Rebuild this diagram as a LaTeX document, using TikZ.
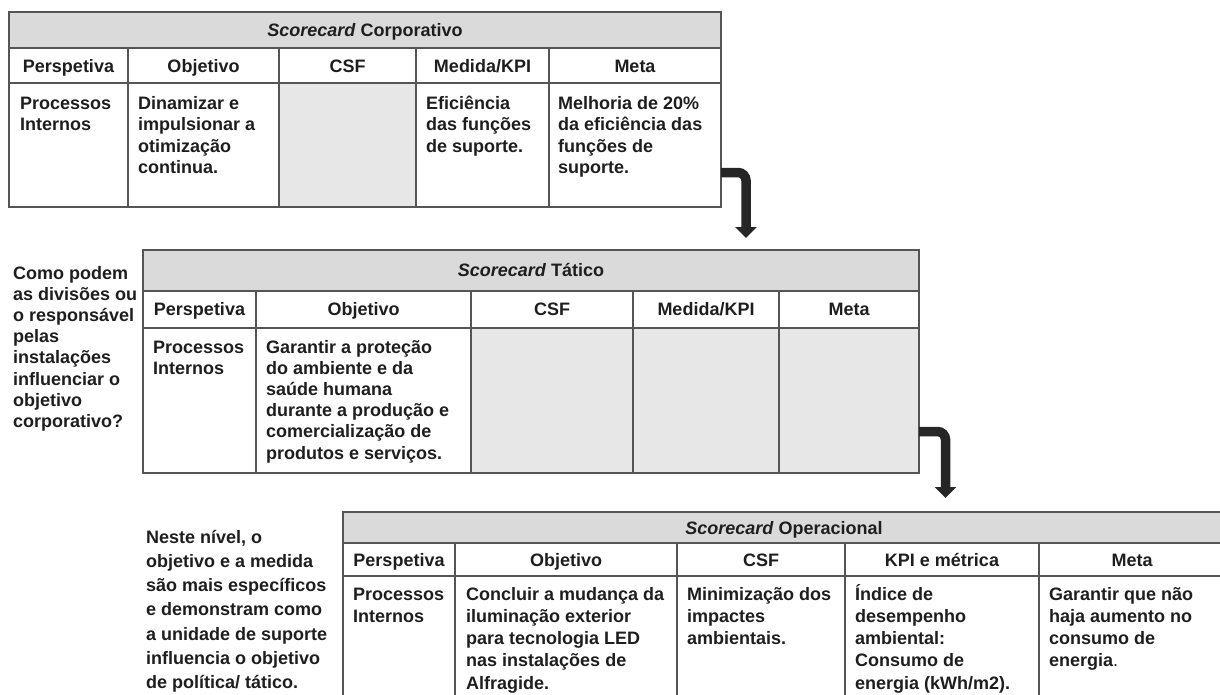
\documentclass[tikz,border=0pt]{standalone}
\usepackage{fontspec}
\setmainfont{Liberation Sans}
\usetikzlibrary{arrows.meta}

\definecolor{rule}{RGB}{85,85,85}
\definecolor{titlegray}{RGB}{218,218,218}
\definecolor{cellgray}{RGB}{231,231,231}
\definecolor{ink}{RGB}{30,30,30}
\definecolor{arrowink}{RGB}{38,38,38}

% Multi-line nodes are placed by the baseline of their last line.
\tikzset{
  gridline/.style={draw=rule, line width=1.4pt},
  titletext/.style={anchor=base, inner sep=0pt, text=ink,
    font=\fontsize{18}{21}\selectfont\bfseries},
  headtext/.style={anchor=base, inner sep=0pt, text=ink,
    font=\fontsize{18}{21}\selectfont\bfseries},
  bodytext/.style={anchor=base west, align=left, inner sep=0pt, text=ink,
    font=\fontsize{18}{#1}\selectfont\bfseries},
  bodytext/.default=21.5,
  flow/.style={draw=arrowink, line width=9.5pt, rounded corners=8pt,
    -{Triangle[width=21pt,length=11pt]}},
}

\begin{document}
\begin{tikzpicture}[x=1pt, y=-1pt]
\useasboundingbox (0,0) rectangle (1220,694);
\clip (0,0) rectangle (1220,694);

% ---------------- Scorecard Corporativo ----------------
\fill[titlegray] (9,12) rectangle (721,48);
\fill[cellgray] (279,83) rectangle (416,207);
\draw[gridline] (9,12) rectangle (721,207);
\draw[gridline] (9,48) -- (721,48) (9,83) -- (721,83);
\foreach \x in {128,279,416,549} \draw[gridline] (\x,48) -- (\x,207);

\node[titletext] (c-title) at (365,36) {\textit{Scorecard} Corporativo};
\node[headtext] (c-h1) at (68.5,72) {Perspetiva};
\node[headtext] (c-h2) at (203.5,72) {Objetivo};
\node[headtext] (c-h3) at (347.5,72) {CSF};
\node[headtext] (c-h4) at (482.5,72) {Medida/KPI};
\node[headtext] (c-h5) at (635,72) {Meta};
\node[bodytext] (c-b1) at (20,130.5) {Processos\\Internos};
\node[bodytext] (c-b2) at (138,173.5) {Dinamizar e\\impulsionar a\\otimização\\continua.};
\node[bodytext] (c-b4) at (426,152) {Eficiência\\das funções\\de suporte.};
\node[bodytext] (c-b5) at (558,173.5) {Melhoria de 20\%\\da eficiência das\\funções de\\suporte.};
\coordinate (c-out) at (721,172.5);

% ---------------- Scorecard Tático ----------------
\fill[titlegray] (143,250) rectangle (919,291);
\fill[cellgray] (471,328) rectangle (919,473);
\draw[gridline] (143,250) rectangle (919,473);
\draw[gridline] (143,291) -- (919,291) (143,328) -- (919,328);
\foreach \x in {256,471,633,779} \draw[gridline] (\x,291) -- (\x,473);

\node[titletext] (t-title) at (531,276) {\textit{Scorecard} Tático};
\node[headtext] (t-h1) at (199.5,315) {Perspetiva};
\node[headtext] (t-h2) at (363.5,315) {Objetivo};
\node[headtext] (t-h3) at (552,315) {CSF};
\node[headtext] (t-h4) at (706,315) {Medida/KPI};
\node[headtext] (t-h5) at (849,315) {Meta};
\node[bodytext=21.2] (t-b1) at (153,374.2) {Processos\\Internos};
\node[bodytext=21.2] (t-b2) at (266,459) {Garantir a proteção\\do ambiente e da\\saúde humana\\durante a produção e\\comercialização de\\produtos e serviços.};
\coordinate (t-in) at (746,238);
\coordinate (t-out) at (919,431.5);

\node[bodytext=21.2] (t-note) at (13,427.4) {Como podem\\as divisões ou\\o responsável\\pelas\\instalações\\influenciar o\\objetivo\\corporativo?};

% ---------------- Scorecard Operacional ----------------
\fill[titlegray] (343,512) rectangle (1225,543);
\draw[gridline] (343,512) rectangle (1225,710);
\draw[gridline] (343,543) -- (1225,543) (343,576) -- (1225,576);
\foreach \x in {455,677,845,1039} \draw[gridline] (\x,543) -- (\x,710);

\node[titletext] (o-title) at (784,534) {\textit{Scorecard} Operacional};
\node[headtext] (o-h1) at (399,566) {Perspetiva};
\node[headtext] (o-h2) at (566,566) {Objetivo};
\node[headtext] (o-h3) at (761,566) {CSF};
\node[headtext] (o-h4) at (942,566) {KPI e métrica};
\node[headtext] (o-h5) at (1132,566) {Meta};
\node[bodytext=22.3] (o-b1) at (353,622.3) {Processos\\Internos};
\node[bodytext=22.3] (o-b2) at (466,689.2) {Concluir a mudança da\\iluminação exterior\\para tecnologia LED\\nas instalações de\\Alfragide.};
\node[bodytext=22.3] (o-b3) at (687,644.6) {Minimização dos\\impactes\\ambientais.};
\node[bodytext=22.3] (o-b4) at (855,689.2) {Índice de\\desempenho\\ambiental:\\Consumo de\\energia (kWh/m2).};
\node[bodytext=22.3] (o-b5) at (1049,666.9) {Garantir que não\\haja aumento no\\consumo de\\energia{\mdseries.}};
\coordinate (o-in) at (945.5,498);

\node[bodytext=24.3] (o-note) at (146,688.8) {Neste nível, o\\objetivo e a medida\\são mais específicos\\e demonstram como\\a unidade de suporte\\influencia o objetivo\\de política/ tático.};

% ---------------- cascade arrows ----------------
\draw[flow] (c-out) -| (t-in);
\draw[flow] (t-out) -| (o-in);
\end{tikzpicture}
\end{document}
